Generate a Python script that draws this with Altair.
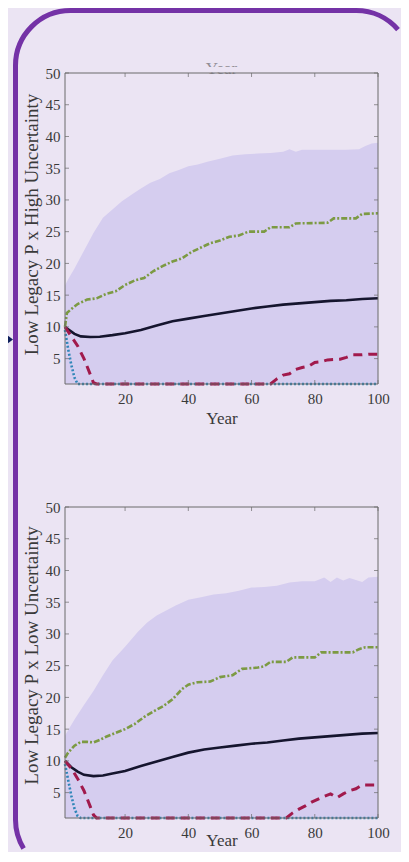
import altair as alt
import pandas as pd

# ---------------- data ----------------
X_TICKS = [20, 40, 60, 80, 100]
Y_TICKS = [5, 10, 15, 20, 25, 30, 35, 40, 45, 50]
BAND_FLOOR = 1

# Top panel: Low Legacy P x High Uncertainty
hu_band_year = [1, 2, 4, 7, 10, 13, 16, 19, 22, 25, 28, 31, 34, 37, 40, 43, 46, 50, 54, 58, 62, 66, 70, 72, 74, 76, 80, 85, 90, 94, 96, 98, 100]
hu_band_upper = [16.5, 17.5, 19.2, 22.0, 24.8, 27.2, 28.5, 29.8, 30.8, 31.8, 32.7, 33.3, 34.2, 34.7, 35.3, 35.6, 36.0, 36.5, 37.0, 37.2, 37.3, 37.4, 37.6, 38.0, 37.6, 37.9, 37.9, 37.9, 37.9, 38.0, 38.5, 38.9, 39.0]

hu_mean_year = [1, 2, 4, 6, 9, 12, 16, 20, 25, 30, 35, 40, 45, 50, 55, 60, 65, 70, 75, 80, 85, 90, 95, 100]
hu_mean = [10.0, 9.6, 8.9, 8.5, 8.4, 8.45, 8.7, 9.0, 9.5, 10.2, 10.9, 11.3, 11.7, 12.1, 12.5, 12.9, 13.2, 13.5, 13.7, 13.9, 14.1, 14.2, 14.4, 14.5]

hu_high_year = [1, 1.6, 3, 5, 8, 11, 14, 17, 20, 23, 26, 29, 32, 35, 38, 41, 44, 47, 50, 53, 56, 59, 64, 66, 72, 74, 84, 86, 93, 95, 100]
hu_high = [10.0, 12.2, 12.8, 13.6, 14.3, 14.5, 15.2, 15.6, 16.6, 17.3, 17.7, 18.8, 19.6, 20.3, 20.8, 21.8, 22.5, 23.2, 23.6, 24.2, 24.4, 25.0, 25.0, 25.7, 25.7, 26.3, 26.4, 27.1, 27.1, 27.8, 27.9]

hu_low_year = [1, 3, 5, 7, 9, 10, 11, 66, 68, 70, 72, 74, 76, 78, 80, 82, 84, 88, 90, 92, 95, 97, 100]
hu_low = [10.0, 8.5, 7.0, 5.0, 2.5, 1.2, 1.0, 1.0, 1.8, 2.4, 2.6, 3.3, 3.6, 3.8, 4.4, 4.5, 4.8, 4.9, 5.2, 5.6, 5.6, 5.7, 5.7]

hu_min_year = [1, 2, 3, 4, 5, 100]
hu_min = [9.5, 6.5, 4.0, 2.0, 1.0, 1.0]

# Bottom panel: Low Legacy P x Low Uncertainty
lu_band_year = [1, 4, 7, 10, 13, 16, 20, 24, 27, 30, 33, 36, 40, 44, 48, 52, 56, 60, 64, 68, 72, 76, 80, 83, 85, 87, 89, 91, 93, 95, 97, 100]
lu_band_upper = [14.0, 16.5, 18.8, 21.0, 23.5, 25.8, 28.0, 30.3, 31.8, 32.9, 33.7, 34.5, 35.4, 35.8, 36.2, 36.4, 36.8, 37.3, 37.4, 37.6, 38.1, 38.3, 38.3, 38.9, 38.2, 38.9, 38.4, 38.8, 38.5, 38.2, 38.9, 39.0]

lu_mean_year = [1, 3, 5, 7, 10, 13, 16, 20, 25, 30, 35, 40, 45, 50, 55, 60, 65, 70, 75, 80, 85, 90, 95, 100]
lu_mean = [10.0, 9.0, 8.3, 7.8, 7.6, 7.7, 8.0, 8.4, 9.2, 9.9, 10.6, 11.3, 11.8, 12.1, 12.4, 12.7, 12.9, 13.2, 13.5, 13.7, 13.9, 14.1, 14.3, 14.4]

lu_high_year = [1, 2, 4, 6, 8, 10, 12, 14, 17, 20, 23, 26, 29, 32, 35, 38, 40, 43, 47, 50, 54, 57, 62, 64, 66, 71, 73, 80, 82, 92, 94, 96, 100]
lu_high = [10.5, 11.3, 12.4, 13.0, 13.0, 12.9, 13.3, 13.8, 14.4, 15.0, 15.8, 16.9, 17.8, 18.6, 19.7, 21.3, 22.0, 22.4, 22.5, 23.2, 23.5, 24.5, 24.7, 24.9, 25.6, 25.6, 26.3, 26.3, 27.1, 27.1, 27.6, 27.9, 27.9]

lu_low_year = [1, 3, 5, 7, 9, 10, 11, 71, 73, 75, 77, 79, 82, 85, 87, 89, 91, 93, 95, 98, 100]
lu_low = [10.0, 8.8, 7.2, 5.3, 2.8, 1.5, 1.0, 1.0, 1.8, 2.4, 2.9, 3.5, 4.2, 4.8, 4.2, 4.8, 5.3, 5.6, 6.2, 6.2, 6.2]

lu_min_year = [1, 2, 3, 4, 5, 6, 100]
lu_min = [9.5, 7.0, 4.5, 2.5, 1.3, 1.0, 1.0]

# ---------------- layout & styling ----------------
W = 313            # plot width (both panels)
PH = 311           # panel height
GAP = 123          # gap between panels
TOTAL_H = 2 * PH + GAP
BG = "#EBE4F3"
SHADE = "#D5CDEF"
PURPLE = "#7432A6"
NAVY = "#0E1F5B"
AXC = "#6A6A6A"
TXT = "#3A3A3A"
FONT = "Liberation Serif"
C_MEAN = "#15152E"
C_HIGH = "#7C9A43"
C_LOW = "#A11A4C"
C_MIN = "#2F86B8"
ONE = pd.DataFrame({"k": [0]})


def panel(y0, band_year, band_upper, mean_y, mean_v, high_y, high_v, low_y, low_v, min_y, min_v,
          ytitle, title_center, xtitle_y):
    y1 = y0 + PH
    XS = alt.Scale(domain=[1, 100], nice=False, zero=False)
    YS = alt.Scale(domain=[1, 50], nice=False, zero=False, range=[y1, y0])
    AX = alt.Axis(values=X_TICKS, title="Year", orient="bottom", offset=y1 - TOTAL_H,
                  grid=False, domain=False, ticks=False,
                  labelFont=FONT, labelFontSize=15, labelColor=TXT, labelPadding=7,
                  labelFlush=False, labelOverlap=False,
                  titleFont=FONT, titleFontSize=17, titleFontWeight="normal", titleColor=TXT,
                  titleX=W / 2, titleY=xtitle_y, titleBaseline="alphabetic", titleAlign="center")
    AY = alt.Axis(values=Y_TICKS, title=ytitle, orient="left",
                  grid=False, domain=False, ticks=False,
                  labelFont=FONT, labelFontSize=15, labelColor=TXT, labelPadding=5,
                  labelOverlap=False,
                  titleFont=FONT, titleFontSize=19, titleFontWeight="normal", titleColor=TXT,
                  titleAngle=270, titleX=-28, titleY=y0 + title_center,
                  titleBaseline="alphabetic", titleAlign="center")

    def line(years, vals, color, width, dash=None):
        df = pd.DataFrame({"year": years, "v": vals})
        kw = dict(color=color, strokeWidth=width, interpolate="linear")
        if dash:
            kw["strokeDash"] = dash
        return alt.Chart(df).mark_line(**kw).encode(
            x=alt.X("year:Q", scale=XS, axis=AX),
            y=alt.Y("v:Q", scale=YS, axis=AY),
        )

    band = pd.DataFrame({"year": band_year, "v": band_upper,
                         "lower": [BAND_FLOOR] * len(band_year)})
    area = alt.Chart(band).mark_area(color=SHADE, opacity=1).encode(
        x=alt.X("year:Q", scale=XS, axis=AX),
        y=alt.Y("v:Q", scale=YS, axis=AY),
        y2="lower:Q",
    )
    ty_df = pd.DataFrame({"v": Y_TICKS})
    tx_df = pd.DataFrame({"year": X_TICKS})
    tick_l = alt.Chart(ty_df).mark_tick(orient="horizontal", size=4, thickness=1, color=AXC).encode(
        y=alt.Y("v:Q", scale=YS, axis=AY), x=alt.value(2))
    tick_r = alt.Chart(ty_df).mark_tick(orient="horizontal", size=4, thickness=1, color=AXC).encode(
        y=alt.Y("v:Q", scale=YS, axis=AY), x=alt.value(W - 2))
    tick_b = alt.Chart(tx_df).mark_tick(orient="vertical", size=4, thickness=1, color=AXC).encode(
        x=alt.X("year:Q", scale=XS, axis=AX), y=alt.value(y1 - 2))
    tick_t = alt.Chart(tx_df).mark_tick(orient="vertical", size=4, thickness=1, color=AXC).encode(
        x=alt.X("year:Q", scale=XS, axis=AX), y=alt.value(y0 + 2))
    frame = alt.Chart(ONE).mark_rect(filled=False, color=AXC, strokeWidth=1).encode(
        x=alt.value(0), x2=alt.value(W), y=alt.value(y0), y2=alt.value(y1))
    return alt.layer(
        area,
        line(mean_y, mean_v, C_MEAN, 2.6),
        line(high_y, high_v, C_HIGH, 2.6, [6, 2, 2, 2]),
        line(min_y, min_v, C_MIN, 2.6, [2, 2]),
        line(low_y, low_v, C_LOW, 3, [9, 6]),
        tick_l, tick_r, tick_b, tick_t, frame,
    )


top = panel(0, hu_band_year, hu_band_upper, hu_mean_year, hu_mean, hu_high_year, hu_high,
            hu_low_year, hu_low, hu_min_year, hu_min,
            "Low Legacy P x High Uncertainty", 151, 39)
bottom = panel(PH + GAP, lu_band_year, lu_band_upper, lu_mean_year, lu_mean, lu_high_year, lu_high,
               lu_low_year, lu_low, lu_min_year, lu_min,
               "Low Legacy P x Low Uncertainty", 148, 27)

# decorations, kept inside the page: slide frame (open path, runs to the page edges),
# arrow tip, clipped heading. Symbol path units are pixels (sqrt(size)/2 = 1).
BORDER_PATH = ("M -41.4 775.5 A 55 55 0 0 1 -49.5 746.8 L -49.5 -7.5 "
               "A 55 55 0 0 1 5.5 -62.5 L 291.3 -62.5 A 55 55 0 0 1 333 -43.4")
ARROW_PATH = "M -57 262.7 L -52 266.5 L -57 270.3 Z"

border = alt.Chart(ONE).mark_point(shape=BORDER_PATH, size=4, filled=False, color=PURPLE,
                                   strokeWidth=5, opacity=1).encode(
    x=alt.value(0), y=alt.value(0))
arrow = alt.Chart(ONE).mark_point(shape=ARROW_PATH, size=4, filled=True,
                                  color=NAVY, opacity=1, strokeWidth=0).encode(
    x=alt.value(0), y=alt.value(0))
clipped_title = alt.Chart(ONE).mark_text(text="Year", font=FONT, fontSize=17, color=TXT, opacity=0.5,
                                         baseline="alphabetic", align="center").encode(
    x=alt.value(W / 2), y=alt.value(1))
cover = alt.Chart(ONE).mark_rect(color=BG, opacity=1).encode(
    x=alt.value(W / 2 - 30), x2=alt.value(W / 2 + 30), y=alt.value(-6), y2=alt.value(-0.5))

chart = alt.layer(border, arrow, clipped_title, cover, top, bottom).resolve_scale(
    x="independent", y="independent"
).properties(
    width=W, height=TOTAL_H,
    autosize=alt.AutoSizeParams(type="none"),
    padding={"left": 57, "top": 65, "right": 23, "bottom": 34},
    background=BG,
).configure_view(stroke=None)

chart.save("out.html", embed_options={"renderer": "svg", "actions": False})
